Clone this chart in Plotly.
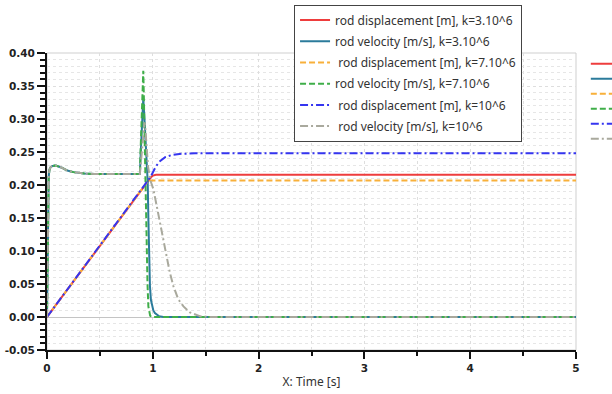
import plotly.graph_objects as go

# Common approach phase (all three stiffness cases coincide until impact)
t_approach = [0.0, 0.004, 0.008, 0.012, 0.016, 0.022, 0.03, 0.045, 0.06, 0.075, 0.09, 0.11,
              0.14, 0.17, 0.2, 0.25, 0.3, 0.35, 0.45, 0.6, 0.75, 0.878]
v_approach = [0.0, 0.06, 0.13, 0.19, 0.212, 0.222, 0.226, 0.2285, 0.2293, 0.2295, 0.2292, 0.2283,
              0.2262, 0.2238, 0.2215, 0.2195, 0.2182, 0.2174, 0.2168, 0.2166, 0.2165, 0.2165]
x_approach = [0.0, 0.878]
d_approach = [0.0, 0.1905]

# k = 3.10^6
t_disp_k3 = [0.955, 0.97, 0.985, 1.0, 1.015, 1.03, 1.05, 5.0]
disp_k3 = [0.2055, 0.209, 0.2122, 0.2142, 0.2152, 0.2156, 0.2157, 0.2157]
t_vel_k3 = [0.885, 0.895, 0.905, 0.91, 0.918, 0.93, 0.942, 0.952, 0.958, 0.964, 0.973,
            0.982, 0.992, 1.005, 1.02, 1.04, 1.06, 1.1, 5.0]
vel_k3 = [0.245, 0.285, 0.322, 0.331, 0.31, 0.27, 0.235, 0.204, 0.15, 0.1, 0.047,
          0.026, 0.016, 0.01, 0.006, 0.003, 0.001, 0.0, 0.0]

# k = 7.10^6
t_disp_k7 = [0.95, 0.957, 0.965, 5.0]
disp_k7 = [0.2045, 0.2064, 0.207, 0.207]
t_vel_k7 = [0.884, 0.893, 0.9, 0.906, 0.91, 0.914, 0.92, 0.928, 0.935, 0.942, 0.95,
            0.958, 0.966, 0.975, 0.985, 1.0, 5.0]
vel_k7 = [0.25, 0.3, 0.345, 0.368, 0.373, 0.345, 0.29, 0.23, 0.16, 0.097, 0.05,
          0.016, 0.006, 0.002, 0.0005, 0.0, 0.0]

# k = 10^6
t_disp_k10 = [0.955, 0.98, 1.0, 1.03, 1.07, 1.12, 1.18, 1.27, 1.4, 5.0]
disp_k10 = [0.2055, 0.2125, 0.219, 0.2285, 0.2365, 0.2425, 0.2455, 0.2472, 0.248, 0.248]
t_vel_k10 = [0.888, 0.9, 0.912, 0.922, 0.93, 0.94, 0.955, 0.975, 1.005, 1.035, 1.068,
             1.1, 1.13, 1.16, 1.194, 1.24, 1.29, 1.35, 1.45, 1.55, 5.0]
vel_k10 = [0.235, 0.255, 0.28, 0.295, 0.285, 0.255, 0.228, 0.208, 0.194, 0.17, 0.143,
           0.116, 0.092, 0.068, 0.047, 0.027, 0.016, 0.007, 0.001, 0.0, 0.0]

# Axis ticks
y_tick_vals = [-0.05, 0.0, 0.05, 0.10, 0.15, 0.20, 0.25, 0.30, 0.35, 0.40]
y_tick_text = ["-0.05", "0.00", "0.05", "0.10", "0.15", "0.20", "0.25", "0.30", "0.35", "0.40"]
x_tick_vals = [0, 1, 2, 3, 4, 5]

names = [
    "rod displacement [m], k=3.10^6",
    "rod velocity [m/s], k=3.10^6",
    "\u00a0rod displacement [m], k=7.10^6",
    "rod velocity [m/s], k=7.10^6",
    "\u00a0rod displacement [m], k=10^6",
    "\u00a0rod velocity [m/s], k=10^6",
]
colors = ["#ee3d3d", "#2b7b9b", "#f8b03a", "#3fae49", "#3535f0", "#a9a99d"]
dashes = ["solid", "solid", "6px,3px", "6px,3px", "8px,3px,2px,3px", "8px,3px,2px,3px"]

series = [
    (x_approach + t_disp_k3, d_approach + disp_k3),
    (t_approach + t_vel_k3, v_approach + vel_k3),
    (x_approach + t_disp_k7, d_approach + disp_k7),
    (t_approach + t_vel_k7, v_approach + vel_k7),
    (x_approach + t_disp_k10, d_approach + disp_k10),
    (t_approach + t_vel_k10, v_approach + vel_k10),
]

fig = go.Figure()
for i, ((xs, ys), name) in enumerate(zip(series, names)):
    fig.add_trace(go.Scatter(
        x=xs, y=ys, mode="lines", name=name, legendgroup=f"g{i}",
        line=dict(color=colors[i], width=2, dash=dashes[i]),
    ))

# Second key column at the right edge (swatches only)
key_y0, key_step = 0.9636, 0.0505
for i in range(len(names)):
    yk = key_y0 - i * key_step
    fig.add_shape(type="line", xref="paper", yref="paper",
                  x0=1.028, x1=1.10, y0=yk, y1=yk,
                  line=dict(color=colors[i], width=2, dash=dashes[i]))

# Light frame around the plotting area
fig.add_shape(type="rect", xref="paper", yref="paper", x0=0, x1=1, y0=0, y1=1,
              line=dict(color="#cfcfcf", width=1), layer="below")

tickfont = dict(family="DejaVu Sans", size=10.5, color="#222222", weight="bold")
gridc = "#dedede"
minor_gridc = "#e6e6e6"

fig.update_layout(
    width=612, height=394,
    margin=dict(l=47, r=36, t=53, b=44, autoexpand=False),
    paper_bgcolor="white", plot_bgcolor="white",
    font=dict(family="Noto Sans", size=12, color="#333333"),
    showlegend=True,
    legend=dict(
        x=0.467, y=1.163, xanchor="left", yanchor="top",
        bgcolor="white", bordercolor="#444444", borderwidth=1,
        font=dict(family="Noto Sans", size=12, color="#333333"),
        tracegroupgap=2.2, itemwidth=30,
    ),
    xaxis=dict(
        range=[0, 5], tickmode="array", tickvals=x_tick_vals, automargin=False,
        ticks="outside", ticklen=7, tickwidth=1.5, tickcolor="#111111",
        showline=True, linecolor="#111111", linewidth=2,
        showgrid=True, gridcolor=gridc, griddash="dot", gridwidth=1,
        zeroline=False, tickfont=tickfont,
        minor=dict(dtick=0.5, ticks="outside", ticklen=4, tickcolor="#111111",
                   showgrid=True, gridcolor=gridc, griddash="dot"),
        title=dict(text="X: Time [s]", font=dict(family="Noto Sans", size=12, color="#333333"),
                   standoff=5),
    ),
    yaxis=dict(
        range=[-0.05, 0.40], tickmode="array", tickvals=y_tick_vals, ticktext=y_tick_text,
        automargin=False,
        ticks="outside", ticklen=8, tickwidth=1.5, tickcolor="#111111",
        showline=True, linecolor="#111111", linewidth=2,
        showgrid=True, gridcolor=gridc, griddash="dot", gridwidth=1,
        zeroline=True, zerolinecolor="#c4c4c4", zerolinewidth=1,
        tickfont=tickfont,
        minor=dict(dtick=0.01, ticks="outside", ticklen=5, tickcolor="#111111",
                   showgrid=True, gridcolor=minor_gridc, griddash="dot"),
    ),
)

fig.write_html("out.html")
